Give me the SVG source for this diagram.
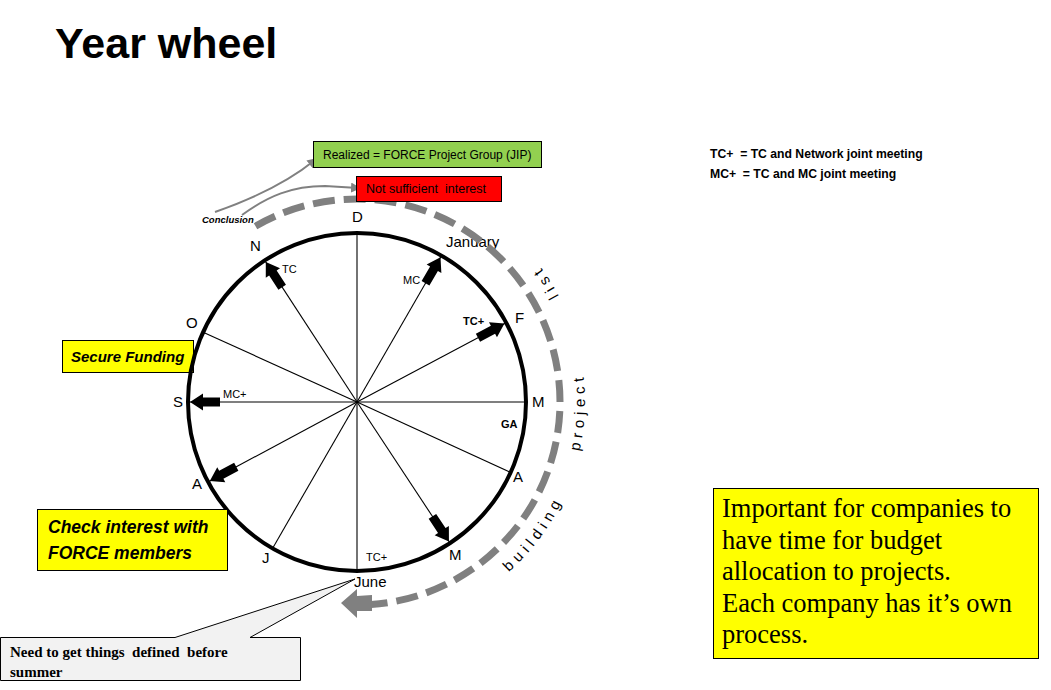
<svg xmlns="http://www.w3.org/2000/svg" xmlns:xlink="http://www.w3.org/1999/xlink" width="1051" height="690" viewBox="0 0 1051 690">
<style>
.sans{font-family:"Liberation Sans",Arial,sans-serif}
.serif{font-family:"Liberation Serif","Times New Roman",serif}
.month{font-family:"Liberation Sans",Arial,sans-serif;font-size:15px;fill:#000}
.small{font-family:"Liberation Sans",Arial,sans-serif;font-size:11px;fill:#000}
.spoke{stroke:#000;stroke-width:1.1}
.box{stroke:#000;stroke-width:1}
.curve{fill:none;stroke:#808080;stroke-width:2}
.arctext{font-family:"Liberation Sans",Arial,sans-serif;font-size:15px;letter-spacing:5px;fill:#000}
</style>
<defs>
<path id="blk" d="M0,-4.5 L17,-4.5 L17,-8.5 L30,0 L17,8.5 L17,4.5 L0,4.5 Z" fill="#000"/>
<marker id="gh" markerWidth="10" markerHeight="10" refX="7" refY="5" orient="auto" markerUnits="userSpaceOnUse" viewBox="0 0 10 10">
<path d="M0,0 L10,5 L0,10 Z" fill="#808080"/>
</marker>
<path id="tp" d="M357,630 A228,228 0 0 0 585,402 A228,228 0 0 0 357,174"/>
</defs>
<rect width="1051" height="690" fill="#fff"/>

<text id="title" class="sans" x="55" y="58" font-size="43" font-weight="bold">Year wheel</text>

<g id="legend" class="sans" font-size="12.2" font-weight="bold">
<text x="710" y="158">TC+ &#160;= TC and Network joint meeting</text>
<text x="710" y="178">MC+ &#160;= TC and MC joint meeting</text>
</g>

<g id="secure-funding">
<rect class="box" x="62.5" y="340.5" width="131" height="32" fill="#ffff00"/>
<text class="sans" x="71" y="362" font-size="15" font-weight="bold" font-style="italic">Secure Funding</text>
</g>

<g id="wheel">
<g id="spokes">
<line class="spoke" x1="357" y1="402" x2="357" y2="233" stroke="#555"/>
<line class="spoke" x1="357" y1="402" x2="441.5" y2="255.6"/>
<line class="spoke" x1="357" y1="402" x2="506.2" y2="322.7"/>
<line class="spoke" x1="357" y1="402" x2="526" y2="402"/>
<line class="spoke" x1="357" y1="402" x2="510.6" y2="472.3"/>
<line class="spoke" x1="357" y1="402" x2="450" y2="543"/>
<line class="spoke" x1="357" y1="402" x2="357" y2="571"/>
<line class="spoke" x1="357" y1="402" x2="272.5" y2="548.4"/>
<line class="spoke" x1="357" y1="402" x2="208.1" y2="481.9"/>
<line class="spoke" x1="357" y1="402" x2="188" y2="402"/>
<line class="spoke" x1="357" y1="402" x2="203.1" y2="332.2"/>
<line class="spoke" x1="357" y1="402" x2="264.7" y2="260.4"/>
</g>
<circle cx="357" cy="402" r="169" fill="none" stroke="#000" stroke-width="4"/>
<g id="meeting-arrows">
<use xlink:href="#blk" href="#blk" transform="translate(357 402) rotate(-123.1) translate(137 0)"/>
<use xlink:href="#blk" href="#blk" transform="translate(357 402) rotate(-60) translate(137 0)"/>
<use xlink:href="#blk" href="#blk" transform="translate(357 402) rotate(-28) translate(137 0)"/>
<use xlink:href="#blk" href="#blk" transform="translate(357 402) rotate(180) translate(137 0)"/>
<use xlink:href="#blk" href="#blk" transform="translate(357 402) rotate(151.8) translate(137 0)"/>
<use xlink:href="#blk" href="#blk" transform="translate(357 402) rotate(56.6) translate(137 0)"/>
</g>
<g id="months" class="month">
<text x="352" y="222">D</text>
<text x="446" y="247">January</text>
<text x="515" y="323">F</text>
<text x="532" y="407">M</text>
<text x="513" y="482">A</text>
<text x="449" y="560">M</text>
<text x="354" y="587">June</text>
<text x="262" y="563">J</text>
<text x="192" y="489">A</text>
<text x="173" y="407">S</text>
<text x="186" y="328">O</text>
<text x="250" y="251">N</text>
</g>
<g id="meeting-labels" class="small">
<text x="282" y="273">TC</text>
<text x="403" y="284">MC</text>
<text x="463" y="325" font-weight="bold">TC+</text>
<text x="223" y="398">MC+</text>
<text x="501" y="428" font-weight="bold">GA</text>
<text x="366" y="561">TC+</text>
</g>
</g>

<g id="connectors">
<path d="M255.5,226.2 A203,203 0 1 1 371.2,604.5" fill="none" stroke="#808080" stroke-width="7" stroke-dasharray="22 9"/>
<polygon points="341,603 357,589 357,596 372,595 372,611 357,611 357,618" fill="#808080"/>
<path class="curve" d="M215,212 C255,198 288,182 315,160" marker-end="url(#gh)"/>
<path class="curve" d="M242,215 C268,196 292,186 325,186 L358,188" marker-end="url(#gh)"/>
</g>

<g id="arc-labels" class="arctext">
<text><textPath xlink:href="#tp" href="#tp" startOffset="166">building</textPath></text>
<text><textPath xlink:href="#tp" href="#tp" startOffset="308">project</textPath></text>
<text><textPath xlink:href="#tp" href="#tp" startOffset="468">list</textPath></text>
</g>

<text id="conclusion" class="sans" x="202" y="223" font-size="9.5" font-weight="bold" font-style="italic">Conclusion</text>

<g id="realized">
<rect class="box" x="313.5" y="141.5" width="228" height="26" fill="#92d050"/>
<text class="sans" x="323" y="159" font-size="12">Realized = FORCE Project Group (JIP)</text>
</g>

<g id="not-sufficient">
<rect class="box" x="356.5" y="176.5" width="145" height="25" fill="#ff0000"/>
<text class="sans" x="366" y="193" font-size="12.5">Not sufficient &#160;interest</text>
</g>

<g id="check-interest">
<rect class="box" x="37.5" y="509.5" width="190" height="61" fill="#ffff00"/>
<text class="sans" font-size="17.5" font-weight="bold" font-style="italic"><tspan x="48" y="533">Check interest with</tspan><tspan x="48" y="559">FORCE members</tspan></text>
</g>

<g id="summer-callout">
<path d="M0.5,637.5 L175,637.5 L355,579 L250,637.5 L300.5,637.5 L300.5,680.5 L0.5,680.5 Z" fill="#f2f2f2" stroke="#000" stroke-width="1"/>
<text class="serif" font-size="15" font-weight="bold"><tspan x="10" y="657">Need to get things &#160;defined &#160;before</tspan><tspan x="10" y="677">summer</tspan></text>
</g>

<g id="budget-note">
<rect class="box" x="713.5" y="488.5" width="325" height="170" fill="#ffff00"/>
<text class="serif" font-size="26.5"><tspan x="722" y="517">Important for companies to</tspan><tspan x="722" y="549">have time for budget</tspan><tspan x="722" y="580">allocation to projects.</tspan><tspan x="722" y="612">Each company has it’s own</tspan><tspan x="722" y="643">process.</tspan></text>
</g>
</svg>
